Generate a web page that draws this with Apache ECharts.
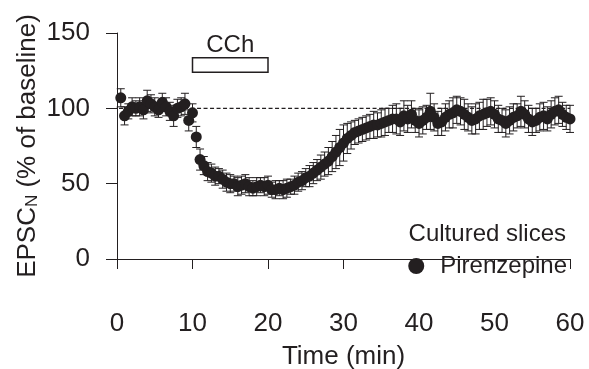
<!DOCTYPE html>
<html>
<head>
<meta charset="utf-8">
<script src="https://cdn.jsdelivr.net/npm/echarts@6/dist/echarts.min.js"></script>
<style>
  html, body { margin: 0; padding: 0; background: #fff; }
  #main { width: 589px; height: 369px; }
</style>
</head>
<body>
<div id="main"></div>
<script>
// time points (min)
var times = [
  0.5, 1, 1.5, 2, 2.5, 3, 3.5, 4, 4.5, 5, 5.5, 6, 6.5, 7, 7.5, 8, 8.5, 9, 9.5, 10,
  10.5, 11, 11.5, 12, 12.5, 13, 13.5, 14, 14.5, 15, 15.5, 16, 16.5, 17, 17.5, 18, 18.5, 19, 19.5, 20,
  20.5, 21, 21.5, 22, 22.5, 23, 23.5, 24, 24.5, 25, 25.5, 26, 26.5, 27, 27.5, 28, 28.5, 29, 29.5, 30,
  30.5, 31, 31.5, 32, 32.5, 33, 33.5, 34, 34.5, 35, 35.5, 36, 36.5, 37, 37.5, 38, 38.5, 39, 39.5, 40,
  40.5, 41, 41.5, 42, 42.5, 43, 43.5, 44, 44.5, 45, 45.5, 46, 46.5, 47, 47.5, 48, 48.5, 49, 49.5, 50,
  50.5, 51, 51.5, 52, 52.5, 53, 53.5, 54, 54.5, 55, 55.5, 56, 56.5, 57, 57.5, 58, 58.5, 59, 59.5, 60
];
// EPSC_N, % of baseline
var epsc = [
  107, 95, 98, 101, 100, 101, 99, 105, 103, 101, 99, 104, 101, 98, 95, 100, 101, 103, 92, 97,
  81, 66, 62, 58, 57, 55, 55, 53, 51, 50, 50, 48, 49, 50, 48, 47, 48, 49, 48, 49,
  46, 46, 47, 46, 47, 48, 49, 51, 52, 54, 55, 57, 59, 61, 63, 65, 68, 71, 74, 77,
  80, 82, 84, 85, 86, 87, 88, 89, 89, 90, 91, 92, 93, 93, 91, 95, 93, 96, 92, 90,
  92, 94, 98, 94, 90, 91, 94, 96, 97, 99, 98, 96, 94, 92, 93, 95, 96, 97, 98, 96,
  93, 92, 90, 92, 94, 95, 98, 96, 93, 91, 92, 94, 95, 93, 96, 98, 99, 96, 94, 93
];
// s.e.m.
var sem = [
  6, 6, 5, 6, 5, 6, 6, 7, 6, 6, 5, 6, 6, 6, 7, 6, 6, 7, 7, 6,
  7, 7, 6, 6, 6, 6, 5, 6, 6, 6, 5, 6, 6, 6, 6, 5, 6, 5, 6, 6,
  5, 6, 5, 6, 6, 5, 6, 6, 6, 6, 7, 7, 7, 8, 8, 9, 10, 11, 12, 12,
  10, 9, 8, 8, 8, 8, 8, 9, 8, 9, 9, 8, 9, 10, 9, 10, 9, 9, 8, 9,
  9, 8, 12, 9, 8, 9, 9, 9, 10, 9, 9, 10, 9, 9, 10, 9, 10, 9, 9, 9,
  9, 8, 9, 9, 9, 8, 10, 9, 9, 9, 8, 9, 9, 8, 9, 9, 9, 8, 8, 9
];
var xTicks = [0, 60, 10];
var yTicks = [0, 150, 50];
var cchWindow = [10, 20];
var cchBox = [124, 133.5];
var baselineLine = [[-1.45, 100], [60, 100]];

var ink = '#231f20';
var font = 'Liberation Sans, Arial, Helvetica, sans-serif';

var points = [];
var bars = [];
for (var i = 0; i < times.length; i++) {
    points.push([times[i], epsc[i]]);
    bars.push([times[i], epsc[i] - sem[i], epsc[i] + sem[i]]);
}

function renderBar(params, api) {
    var lo = api.coord([api.value(0), api.value(1)]);
    var hi = api.coord([api.value(0), api.value(2)]);
    var w = 4;
    var st = { stroke: ink, lineWidth: 1 };
    return {
        type: 'group',
        children: [
            { type: 'line', shape: { x1: lo[0], y1: lo[1], x2: hi[0], y2: hi[1] }, style: st },
            { type: 'line', shape: { x1: hi[0] - w, y1: hi[1], x2: hi[0] + w, y2: hi[1] }, style: st },
            { type: 'line', shape: { x1: lo[0] - w, y1: lo[1], x2: lo[0] + w, y2: lo[1] }, style: st }
        ]
    };
}

var myChart = echarts.init(document.getElementById('main'));
var option = {
    animation: false,
    backgroundColor: '#fff',
    textStyle: { fontFamily: font, color: ink },
    grid: { left: 117, right: 19, top: 33, bottom: 110, containLabel: false, outerBoundsMode: 'none' },
    xAxis: {
        type: 'value',
        min: xTicks[0], max: xTicks[1], interval: xTicks[2],
        offset: 24,
        name: 'Time (min)',
        nameLocation: 'middle',
        nameGap: 61,
        nameMoveOverlap: false,
        nameTextStyle: { fontSize: 26, color: ink, fontFamily: font },
        axisLine: { lineStyle: { color: ink, width: 1 } },
        axisTick: { length: 10, lineStyle: { color: ink, width: 1 } },
        axisLabel: { fontSize: 26, color: ink, margin: 28, fontFamily: font },
        splitLine: { show: false }
    },
    yAxis: {
        type: 'value',
        min: yTicks[0], max: yTicks[1], interval: yTicks[2],
        name: 'EPSC{sub|N} (% of baseline)',
        nameLocation: 'middle',
        nameGap: 76,
        nameMoveOverlap: false,
        nameTextStyle: {
            fontSize: 26, color: ink, fontFamily: font,
            rich: { sub: { fontSize: 17, color: ink, fontFamily: font, verticalAlign: 'bottom', padding: [8, 0, 0, 0] } }
        },
        axisLine: { show: true, lineStyle: { color: ink, width: 1 } },
        axisTick: { show: true, length: 11, lineStyle: { color: ink, width: 1 } },
        axisLabel: { fontSize: 26, color: ink, margin: 27, fontFamily: font },
        splitLine: { show: false }
    },
    legend: {
        data: ['Pirenzepine'],
        right: 22, top: 254,
        padding: 0,
        icon: 'circle',
        itemWidth: 16, itemHeight: 16,
        textStyle: { fontSize: 24, color: ink, fontFamily: font, padding: [0, 0, 0, 11] }
    },
    graphic: [
        { type: 'text', right: 23, top: 222, style: { text: 'Cultured slices', fontSize: 24, fill: ink, fontFamily: font } }
    ],
    series: [
        {
            name: 'baseline',
            type: 'line',
            data: baselineLine,
            clip: false,
            symbol: 'none',
            silent: true,
            z: 1,
            lineStyle: { color: ink, width: 1.2, type: [4, 2.5] },
            markArea: {
                silent: true,
                itemStyle: { color: '#fff', borderColor: ink, borderWidth: 1.5 },
                label: { show: true, position: 'top', distance: 0, fontSize: 24, color: ink, fontFamily: font },
                data: [[
                    { name: 'CCh', xAxis: cchWindow[0], yAxis: cchBox[0] },
                    { xAxis: cchWindow[1], yAxis: cchBox[1] }
                ]]
            }
        },
        {
            name: 'sem',
            type: 'custom',
            data: bars,
            renderItem: renderBar,
            encode: { x: 0, y: [1, 2] },
            silent: true,
            z: 2
        },
        {
            name: 'Pirenzepine',
            type: 'scatter',
            data: points,
            symbol: 'circle',
            symbolSize: 11,
            itemStyle: { color: ink, opacity: 1 },
            z: 3
        }
    ]
};
myChart.setOption(option);
</script>
</body>
</html>
